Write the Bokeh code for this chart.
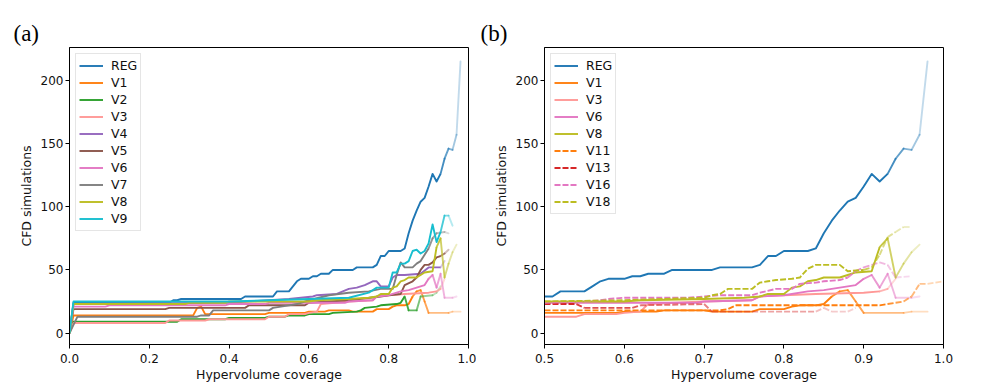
import numpy as np
from bokeh.plotting import figure
from bokeh.layouts import row
from bokeh.models import FixedTicker, PrintfTickFormatter, Title, ColumnDataSource, Range1d
from bokeh.embed import file_html
from bokeh.resources import INLINE

# ---------------- data (coverage, CFD simulations) ----------------
REG_x = [0.00, 0.01, 0.25, 0.26, 0.27, 0.28, 0.43, 0.44, 0.51, 0.52, 0.55, 0.56, 0.57, 0.58, 0.60, 0.61, 0.62, 0.63,
         0.65, 0.66, 0.71, 0.72, 0.76, 0.77, 0.78, 0.79, 0.80, 0.83, 0.84, 0.85, 0.86, 0.87, 0.88, 0.89, 0.90, 0.91,
         0.92, 0.93, 0.94, 0.95, 0.96, 0.97, 0.98]
REG_y = [0, 24, 24, 26, 26, 27, 27, 29, 29, 33, 33, 37, 41, 43, 43, 45, 45, 47,
         47, 50, 50, 52, 52, 54, 61, 61, 65, 65, 67, 79, 89, 97, 104, 107, 116, 126,
         120, 126, 138, 146, 145, 157, 215]

V1_x = [0.00, 0.01, 0.31, 0.32, 0.33, 0.34, 0.49, 0.50, 0.59, 0.60, 0.64, 0.65, 0.70, 0.71, 0.76, 0.77, 0.80, 0.81,
        0.82, 0.84, 0.85, 0.86, 0.87, 0.88, 0.89, 0.90, 0.95, 0.96, 0.98]
V1_y = [0, 14, 14, 20, 21, 15, 15, 16, 16, 17, 17, 18, 18, 17, 17, 19, 19, 21,
        22, 22, 23, 29, 33, 34, 25, 16, 16, 17, 17]

V2_x = [0.00, 0.01, 0.27, 0.28, 0.39, 0.40, 0.49, 0.50, 0.54, 0.55, 0.59, 0.60, 0.65, 0.66, 0.72, 0.73, 0.74, 0.77,
        0.78, 0.82, 0.83, 0.84, 0.85, 0.87, 0.88, 0.91, 0.92, 0.93]
V2_y = [0, 9, 9, 11, 11, 12, 12, 13, 13, 14, 14, 15, 15, 16, 17, 18, 20, 21,
        22, 23, 24, 29, 18, 18, 29, 30, 32, 37]

V3_x = [0.00, 0.01, 0.24, 0.25, 0.34, 0.35, 0.49, 0.50, 0.54, 0.55, 0.59, 0.60, 0.62, 0.63, 0.70, 0.76, 0.77, 0.80,
        0.84, 0.90, 0.92, 0.93, 0.94]
V3_y = [0, 8, 8, 10, 10, 11, 11, 13, 13, 15, 15, 16, 17, 23, 25, 26, 29, 30,
        31, 32, 33, 35, 43]

V4_x = [0.00, 0.01, 0.40, 0.50, 0.55, 0.58, 0.61, 0.62, 0.67, 0.70, 0.72, 0.74, 0.76, 0.77, 0.78, 0.80, 0.81, 0.82,
        0.84, 0.88, 0.90, 0.93, 0.94]
V4_y = [0, 23, 24, 26, 27, 28, 29, 30, 31, 35, 36, 38, 41, 41, 37, 37, 44, 46,
        46, 47, 52, 52, 57]

V5_x = [0.00, 0.01, 0.24, 0.25, 0.44, 0.45, 0.59, 0.60, 0.70, 0.78, 0.80, 0.83, 0.84, 0.86, 0.87, 0.88, 0.89, 0.90,
        0.91, 0.92, 0.93, 0.94, 0.95]
V5_y = [0, 19, 19, 20, 20, 22, 22, 24, 26, 29, 30, 31, 38, 41, 44, 50, 54, 54,
        56, 60, 61, 63, 66]

V6_x = [0.00, 0.01, 0.09, 0.10, 0.39, 0.40, 0.49, 0.50, 0.69, 0.70, 0.76, 0.77, 0.80, 0.83, 0.85, 0.87, 0.89, 0.90,
        0.91, 0.92, 0.93, 0.94, 0.96, 0.97]
V6_y = [0, 21, 21, 22, 22, 23, 23, 24, 24, 25, 26, 29, 30, 33, 34, 36, 38, 43,
        46, 36, 47, 28, 28, 29]

V7_x = [0.00, 0.02, 0.32, 0.33, 0.35, 0.36, 0.50, 0.51, 0.55, 0.57, 0.60, 0.65, 0.70, 0.75, 0.78, 0.81, 0.82, 0.83,
        0.84, 0.86, 0.87, 0.88, 0.89, 0.90, 0.91, 0.92, 0.94, 0.95]
V7_y = [0, 13, 13, 14, 14, 18, 18, 20, 22, 23, 26, 30, 32, 33, 35, 35, 46, 56,
        52, 52, 55, 57, 62, 67, 75, 79, 80, 79]

V8_x = [0.00, 0.01, 0.29, 0.30, 0.39, 0.40, 0.60, 0.62, 0.70, 0.75, 0.77, 0.78, 0.80, 0.81, 0.82, 0.83, 0.84, 0.85,
        0.87, 0.88, 0.89, 0.91, 0.92, 0.93, 0.94, 0.95, 0.96, 0.97]
V8_y = [0, 23, 23, 24, 24, 25, 25, 26, 27, 28, 29, 31, 31, 36, 37, 41, 42, 44,
        44, 46, 48, 49, 68, 75, 44, 55, 64, 70]

V9_x = [0.00, 0.01, 0.40, 0.50, 0.60, 0.70, 0.75, 0.77, 0.80, 0.81, 0.82, 0.83, 0.84, 0.85, 0.86, 0.87, 0.88, 0.89,
        0.90, 0.91, 0.92, 0.93, 0.94, 0.95, 0.96]
V9_y = [0, 25, 25, 26, 27, 28, 32, 36, 36, 48, 48, 55, 55, 57, 65, 66, 63, 65,
        71, 86, 72, 80, 93, 93, 85]

V11_x = [0.50, 0.72, 0.73, 0.74, 0.92, 0.93, 0.94, 0.95, 0.96, 0.97, 0.98, 1.00]
V11_y = [18, 18, 19, 22, 22, 23, 24, 25, 29, 39, 39, 41]

V13_x = [0.50, 0.54, 0.55, 0.61, 0.62, 0.70, 0.71, 0.84, 0.85, 0.86, 0.88, 0.89]
V13_y = [23, 23, 20, 20, 22, 23, 17, 17, 20, 17, 17, 20]

V16_x = [0.50, 0.55, 0.57, 0.58, 0.60, 0.68, 0.72, 0.76, 0.77, 0.79, 0.81, 0.82, 0.84, 0.85, 0.87, 0.88, 0.89, 0.90,
         0.91, 0.92, 0.93, 0.94, 0.96]
V16_y = [24, 25, 26, 27, 28, 28, 30, 30, 32, 35, 35, 39, 40, 41, 42, 44, 49, 52,
         54, 56, 54, 44, 45]

V18_x = [0.50, 0.60, 0.70, 0.71, 0.72, 0.73, 0.76, 0.77, 0.78, 0.79, 0.81, 0.82, 0.83, 0.84, 0.87, 0.88, 0.90, 0.91,
         0.92, 0.93, 0.94, 0.95, 0.96]
V18_y = [25, 26, 28, 30, 31, 35, 35, 40, 41, 42, 43, 44, 51, 54, 54, 49, 50, 52,
         62, 76, 80, 84, 84]

# (name, x, y, colour, dashed, coverage where the line starts to fade)
LEFT = [
    ("REG", REG_x, REG_y, "#1f77b4", False, 0.93),
    ("V1", V1_x, V1_y, "#ff7f0e", False, 0.86),
    ("V2", V2_x, V2_y, "#2ca02c", False, 0.84),
    ("V3", V3_x, V3_y, "#ff9896", False, 0.92),
    ("V4", V4_x, V4_y, "#9467bd", False, 0.92),
    ("V5", V5_x, V5_y, "#8c564b", False, 0.93),
    ("V6", V6_x, V6_y, "#e377c2", False, 0.90),
    ("V7", V7_x, V7_y, "#7f7f7f", False, 0.90),
    ("V8", V8_x, V8_y, "#bcbd22", False, 0.92),
    ("V9", V9_x, V9_y, "#17becf", False, 0.93),
]
RIGHT = [
    ("REG", REG_x, REG_y, "#1f77b4", False, 0.93),
    ("V1", V1_x, V1_y, "#ff7f0e", False, 0.86),
    ("V3", V3_x, V3_y, "#ff9896", False, 0.92),
    ("V6", V6_x, V6_y, "#e377c2", False, 0.90),
    ("V8", V8_x, V8_y, "#bcbd22", False, 0.92),
    ("V11", V11_x, V11_y, "#ff7f0e", True, 0.93),
    ("V13", V13_x, V13_y, "#d62728", True, 0.54),
    ("V16", V16_x, V16_y, "#e377c2", True, 0.88),
    ("V18", V18_x, V18_y, "#bcbd22", True, 0.89),
]

FONT = "DejaVu Sans"
LW = 1.9
DASH = "6 2"


def draw_series(p, name, xs, ys, color, dashed, fade_x):
    xs = np.asarray(xs, float)
    ys = np.asarray(ys, float)
    dash = DASH if dashed else "solid"
    k = int(np.searchsorted(xs, fade_x - 1e-9))
    k = min(k, len(xs) - 1)
    p.line(xs[:k + 1], ys[:k + 1], line_color=color, line_width=LW, line_dash=dash,
           line_join="round", legend_label=name)
    if k < len(xs) - 1:
        x0, x1 = xs[k:-1], xs[k + 1:]
        y0, y1 = ys[k:-1], ys[k + 1:]
        span = max(xs[-1] - fade_x, 1e-6)
        t = ((x0 + x1) / 2 - fade_x) / span
        alpha = np.clip(0.9 - 0.7 * t, 0.2, 1.0)
        src = ColumnDataSource(dict(x0=x0, y0=y0, x1=x1, y1=y1, a=alpha))
        p.segment("x0", "y0", "x1", "y1", source=src, line_color=color, line_alpha="a",
                  line_width=LW, line_dash=dash, line_cap="round" if not dashed else "butt")


def make_panel(series, x0, x1, xticks, tag, bl, br, tag_offset):
    p = figure(frame_width=399, frame_height=297, output_backend="svg", toolbar_location=None,
               x_range=Range1d(x0, x1), y_range=Range1d(-9, 226),
               min_border_left=bl, min_border_right=br, min_border_top=47, min_border_bottom=40)
    for s in series:
        draw_series(p, *s)
    p.grid.visible = False
    p.outline_line_color = "black"
    p.outline_line_width = 1
    p.background_fill_color = "white"
    p.border_fill_color = "white"
    for ax in (p.xaxis[0], p.yaxis[0]):
        ax.axis_line_color = "black"
        ax.major_tick_line_color = "black"
        ax.minor_tick_line_color = None
        ax.major_tick_out = 4
        ax.major_tick_in = 0
        ax.major_label_text_font = FONT
        ax.major_label_text_font_size = "12px"
        ax.major_label_text_color = "#111111"
        ax.axis_label_text_font = FONT
        ax.axis_label_text_font_size = "12.5px"
        ax.axis_label_text_font_style = "normal"
        ax.axis_label_text_color = "#111111"
    p.xaxis[0].ticker = FixedTicker(ticks=xticks)
    p.xaxis[0].formatter = PrintfTickFormatter(format="%.1f")
    p.yaxis[0].ticker = FixedTicker(ticks=[0, 50, 100, 150, 200])
    p.xaxis[0].axis_label = "Hypervolume coverage"
    p.yaxis[0].axis_label = "CFD simulations"
    p.xaxis[0].axis_label_standoff = 1
    p.yaxis[0].major_label_standoff = 2
    p.yaxis[0].axis_label_standoff = 4

    lg = p.legend[0]
    lg.location = "top_left"
    lg.margin = 6
    lg.padding = 3
    lg.spacing = 0
    lg.glyph_width = 24
    lg.glyph_height = 17
    lg.label_height = 17
    lg.label_standoff = 8
    lg.label_text_font = FONT
    lg.label_text_font_size = "12.5px"
    lg.label_text_color = "#111111"
    lg.border_line_color = "#cccccc"
    lg.border_line_width = 1
    lg.background_fill_alpha = 0.85

    t = Title(text=tag, align="left", offset=tag_offset, text_font="Liberation Serif",
              text_font_size="23px", text_font_style="normal", text_color="black", standoff=4)
    p.add_layout(t, "above")
    return p


p1 = make_panel(LEFT, 0.0, 1.0, [0.0, 0.2, 0.4, 0.6, 0.8, 1.0], "(a)", 69, 8, -56)
p2 = make_panel(RIGHT, 0.5, 1.0, [0.5, 0.6, 0.7, 0.8, 0.9, 1.0], "(b)", 68, 45, -64)

layout = row(p1, p2)
open("out.html", "w").write(file_html(layout, INLINE))
